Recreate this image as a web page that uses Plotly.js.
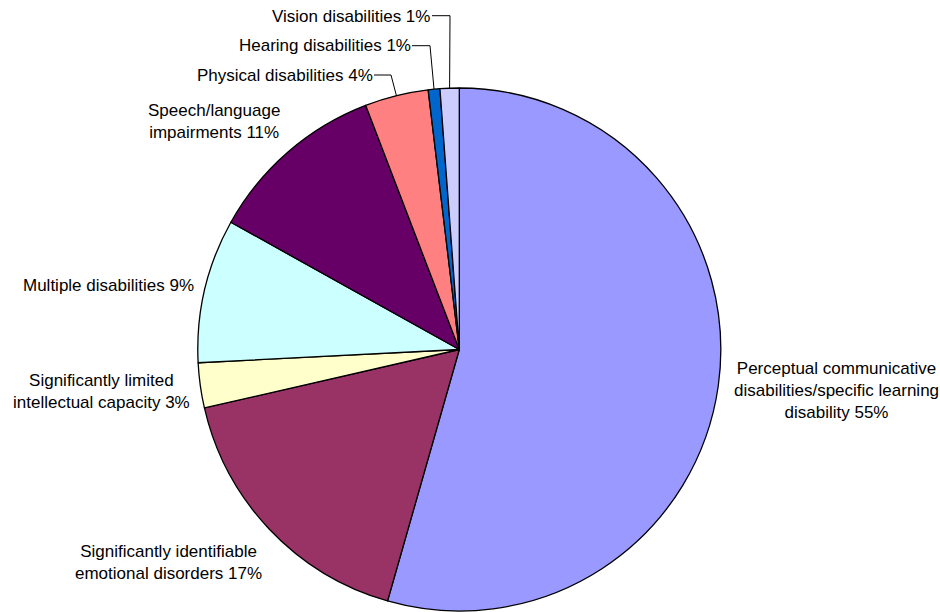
<!DOCTYPE html>
<html>
<head>
<meta charset="utf-8">
<script src="https://cdn.plot.ly/plotly-3.0.1.min.js"></script>
<style>html,body{margin:0;padding:0;background:#fff;} #chart{width:940px;height:612px;}</style>
</head>
<body>
<div id="chart"></div>
<script>
// ---- data ----
var categories = [
  "Perceptual communicative disabilities/specific learning disability",
  "Significantly identifiable emotional disorders",
  "Significantly limited intellectual capacity",
  "Multiple disabilities",
  "Speech/language impairments",
  "Physical disabilities",
  "Hearing disabilities",
  "Vision disabilities"
];
var values = [54.43, 16.99, 2.78, 8.9, 11.08, 3.93, 0.72, 1.18];
var labelTexts = [
  "Perceptual communicative<br>disabilities/specific learning<br>disability 55%",
  "Significantly identifiable<br>emotional disorders 17%",
  "Significantly limited<br>intellectual capacity 3%",
  "Multiple disabilities 9%",
  "Speech/language<br>impairments 11%",
  "Physical disabilities 4%",
  "Hearing disabilities 1%",
  "Vision disabilities 1%"
];
var colors = ["#9999FF", "#993366", "#FFFFCC", "#CCFFFF", "#660066", "#FF8080", "#0066CC", "#CCCCFF"];

// ---- layout constants (pixels) ----
var W = 940, H = 612;
var cx = 459.3, cy = 349.5, R = 261.5;
var labelPos = [[836, 390], [168.5, 562.5], [101, 391.2], [108, 285], [214, 121.7], [285, 75], [325, 45.7], [351.3, 16]];
// leader lines: [start x, y, elbow x] for slices that use them (index -> spec)
var leaders = {5: [374, 75, 391], 6: [412, 45.7, 430], 7: [432, 15.7, 450]};

function px(x) { return x / W; }
function py(y) { return 1 - y / H; }

var total = values.reduce(function (a, b) { return a + b; }, 0);
var cum = 0, mids = [];
values.forEach(function (v) { mids.push((cum + v / 2) / total); cum += v; });

var annotations = labelTexts.map(function (t, i) {
  return {
    x: px(labelPos[i][0]), y: py(labelPos[i][1]), xref: 'paper', yref: 'paper',
    text: t, showarrow: false, xanchor: 'center', yanchor: 'middle', align: 'center',
    font: {family: '"Liberation Sans", Arial, sans-serif', size: 17, color: '#000'}
  };
});

var shapes = [];
Object.keys(leaders).forEach(function (k) {
  var i = +k, L = leaders[k];
  var ang = mids[i] * 2 * Math.PI;
  var ex = cx + R * Math.sin(ang), ey = cy - R * Math.cos(ang);
  var path = 'M' + px(L[0]) + ',' + py(L[1]) + ' L' + px(L[2]) + ',' + py(L[1]) + ' L' + px(ex) + ',' + py(ey);
  shapes.push({type: 'path', xref: 'paper', yref: 'paper', path: path, line: {color: '#000', width: 1}});
});

var trace = {
  type: 'pie',
  labels: categories,
  values: values,
  sort: false,
  direction: 'clockwise',
  rotation: 0,
  textinfo: 'none',
  hoverinfo: 'label+percent',
  marker: {colors: colors, line: {color: '#000', width: 1.3}},
  domain: {x: [px(cx - R), px(cx + R)], y: [py(cy + R), py(cy - R)]},
  showlegend: false
};

var layout = {
  width: W, height: H,
  margin: {l: 0, r: 0, t: 0, b: 0},
  paper_bgcolor: '#fff',
  showlegend: false,
  annotations: annotations,
  shapes: shapes
};

Plotly.newPlot('chart', [trace], layout, {displayModeBar: false, staticPlot: true});
</script>
</body>
</html>
